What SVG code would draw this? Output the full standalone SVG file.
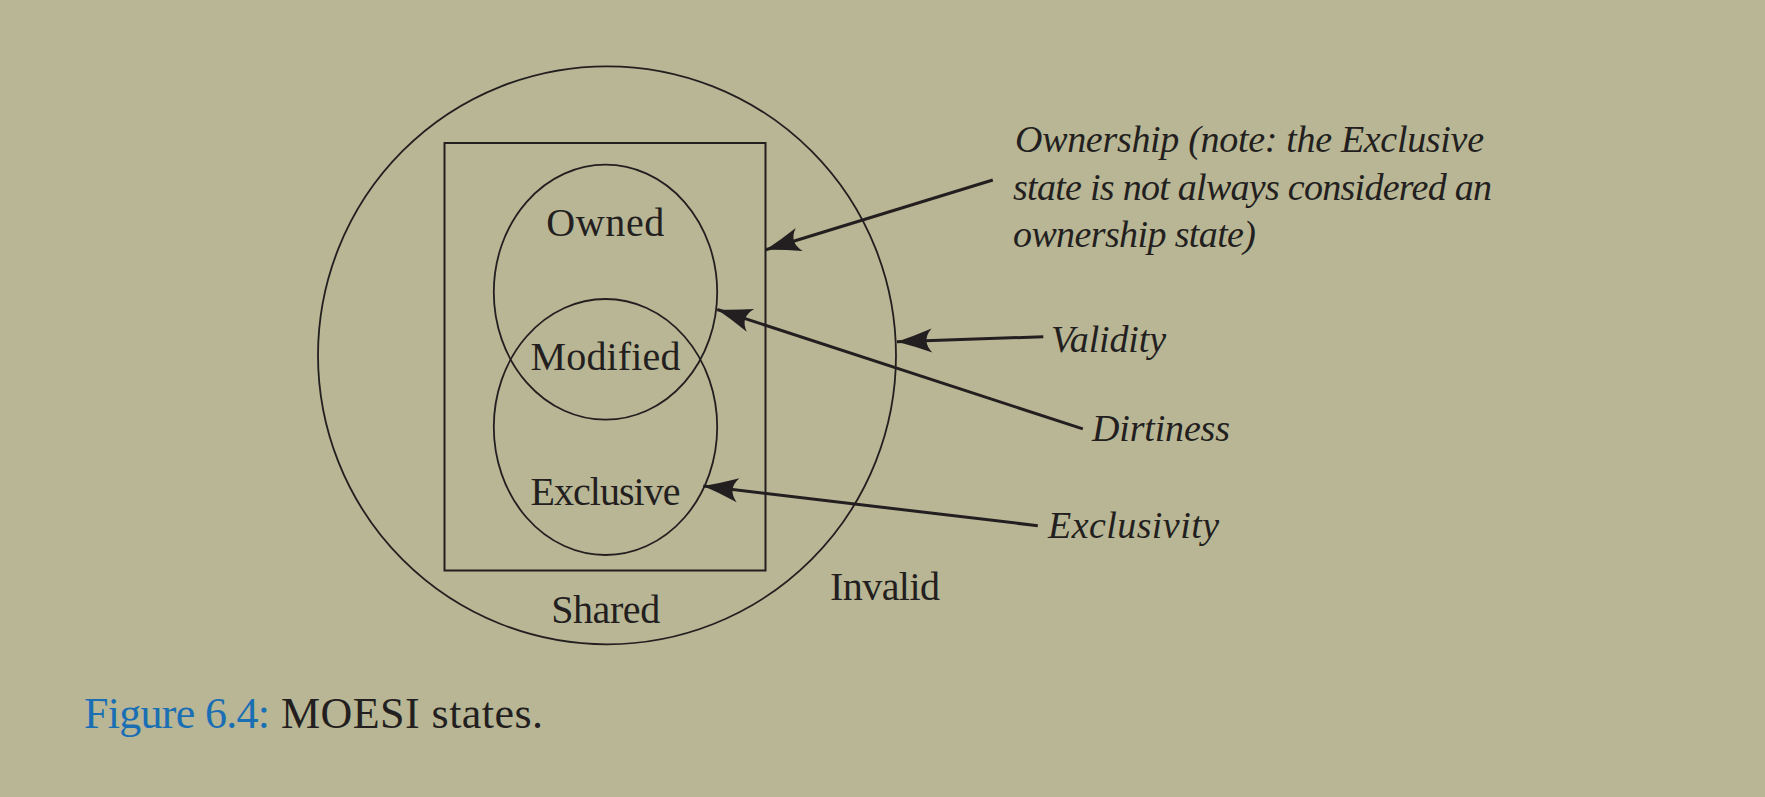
<svg xmlns="http://www.w3.org/2000/svg" width="1765" height="797" viewBox="0 0 1765 797">
  <style>
    .shape { fill: none; stroke: #231f20; }
    .lbl { font-family: "Liberation Serif", "Times New Roman", serif; font-size: 40px; fill: #231f20; }
    .ital { font-family: "Liberation Serif", "Times New Roman", serif; font-size: 38px; font-style: italic; fill: #231f20; }
    .conn { fill: none; stroke: #231f20; stroke-width: 3; marker-end: url(#arr); }
    .cap { font-family: "Liberation Serif", "Times New Roman", serif; font-size: 44px; }
  </style>
  <defs>
    <marker id="arr" markerUnits="userSpaceOnUse" viewBox="-36 -13 38 26" refX="0" refY="0" markerWidth="38" markerHeight="26" orient="auto" overflow="visible">
      <path d="M0,0 Q-17,-5 -35,-12 Q-24,0 -35,12 Q-17,5 0,0 Z" fill="#231f20"/>
    </marker>
  </defs>
  <rect x="0" y="0" width="1765" height="797" fill="#b8b694"/>

  <g id="invalid">
    <circle class="shape" cx="607" cy="355.3" r="289" stroke-width="1.8"/>
    <text class="lbl" x="830" y="599.6" textLength="110">Invalid</text>
  </g>
  <g id="shared">
    <rect class="shape" x="444.5" y="143" width="321" height="427.5" stroke-width="2"/>
    <text class="lbl" x="605.7" y="623.3" text-anchor="middle" textLength="109">Shared</text>
  </g>
  <g id="owned">
    <ellipse class="shape" cx="605.5" cy="292.2" rx="111.7" ry="127.5" stroke-width="1.8"/>
    <text class="lbl" x="605.3" y="235.8" text-anchor="middle" textLength="118">Owned</text>
  </g>
  <g id="exclusive">
    <ellipse class="shape" cx="605.5" cy="427" rx="111.7" ry="128" stroke-width="1.8"/>
    <text class="lbl" x="605.5" y="504.7" text-anchor="middle" textLength="150">Exclusive</text>
  </g>
  <g id="modified">
    <text class="lbl" x="605.5" y="369.5" text-anchor="middle" textLength="150">Modified</text>
  </g>

  <g id="ownership-note">
    <text class="ital" x="1015" y="152" textLength="469">Ownership (note: the Exclusive</text>
    <text class="ital" x="1013" y="199.5" textLength="479">state is not always considered an</text>
    <text class="ital" x="1013" y="247" textLength="243">ownership state)</text>
  </g>
  <g id="validity">
    <text class="ital" x="1051" y="351.7" textLength="115">Validity</text>
  </g>
  <g id="dirtiness">
    <text class="ital" x="1092" y="441" textLength="138">Dirtiness</text>
  </g>
  <g id="exclusivity">
    <text class="ital" x="1048" y="538" textLength="171">Exclusivity</text>
  </g>

  <g id="connectors">
    <line class="conn" x1="992.8" y1="180" x2="765.8" y2="249.7"/>
    <line class="conn" x1="1043.3" y1="336.7" x2="897" y2="341.7"/>
    <line class="conn" x1="1082.8" y1="428.9" x2="717.2" y2="309.5"/>
    <line class="conn" x1="1037.8" y1="525.7" x2="703.3" y2="486.1"/>
  </g>

  <g id="caption">
    <text class="cap" x="84" y="728" fill="#1a6fb4" textLength="186">Figure 6.4:</text>
    <text class="cap" x="281" y="728" fill="#231f20" textLength="262">MOESI states.</text>
  </g>
</svg>
